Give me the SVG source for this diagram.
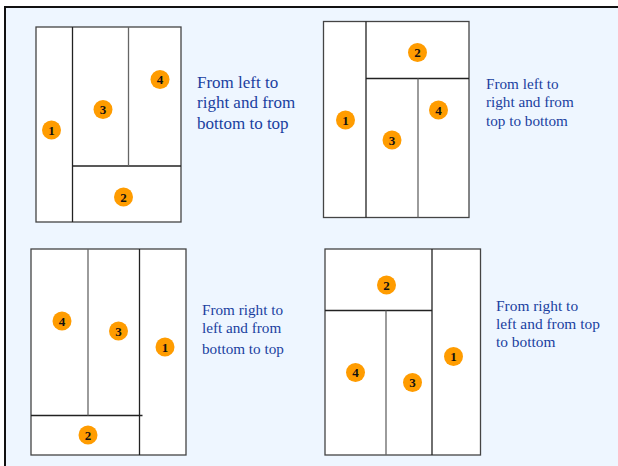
<svg xmlns="http://www.w3.org/2000/svg" width="618" height="466" viewBox="0 0 618 466">
<style>
.box{fill:#fff;stroke:#444;stroke-width:1.3}
.ln{stroke:#222;stroke-width:1.3;fill:none}
.lg{stroke:#666;stroke-width:1.3;fill:none}
.dot{fill:#FF9C00}
text{font-family:"Liberation Serif",serif}
.num{font-weight:bold;font-size:13px;fill:#111;text-anchor:middle}
.cap{fill:#1A3FA0}
</style>
<rect x="0" y="0" width="618" height="466" fill="#fff"/>
<rect x="5" y="7" width="613" height="459" fill="#EEF6FF"/>
<path d="M5,466 V7 H618" fill="none" stroke="#111" stroke-width="2"/>

<g id="diagram1">
<rect class="box" x="36" y="27" width="145" height="195"/>
<line class="ln" x1="72.5" y1="27" x2="72.5" y2="222"/>
<line class="ln" x1="72.5" y1="166" x2="181" y2="166"/>
<line class="lg" x1="128.5" y1="27" x2="128.5" y2="166"/>
<g id="d1n1"><circle class="dot" cx="51.5" cy="130" r="9.5"/><text class="num" x="51.5" y="134.5">1</text></g>
<g id="d1n3"><circle class="dot" cx="103" cy="109.5" r="9.5"/><text class="num" x="103" y="114">3</text></g>
<g id="d1n4"><circle class="dot" cx="160" cy="79.5" r="9.5"/><text class="num" x="160" y="84">4</text></g>
<g id="d1n2"><circle class="dot" cx="123.5" cy="197" r="9.5"/><text class="num" x="123.5" y="201.5">2</text></g>
<text class="cap" font-size="17" x="197" y="87.5">From left to</text>
<text class="cap" font-size="17" x="197" y="108">right and from</text>
<text class="cap" font-size="17" x="197" y="128.5">bottom to top</text>
</g>

<g id="diagram2">
<rect class="box" x="323.5" y="21.5" width="145.5" height="196"/>
<line class="ln" x1="366" y1="21.5" x2="366" y2="217.5"/>
<line class="ln" x1="366" y1="78.5" x2="469" y2="78.5"/>
<line class="lg" x1="418" y1="78.5" x2="418" y2="217.5"/>
<g id="d2n2"><circle class="dot" cx="417.5" cy="52.5" r="9.5"/><text class="num" x="417.5" y="57">2</text></g>
<g id="d2n1"><circle class="dot" cx="345.5" cy="120" r="9.5"/><text class="num" x="345.5" y="124.5">1</text></g>
<g id="d2n4"><circle class="dot" cx="438.5" cy="110" r="9.5"/><text class="num" x="438.5" y="114.5">4</text></g>
<g id="d2n3"><circle class="dot" cx="392" cy="140" r="9.5"/><text class="num" x="392" y="144.5">3</text></g>
<text class="cap" font-size="15.2" x="486" y="88.5">From left to</text>
<text class="cap" font-size="15.2" x="486" y="107">right and from</text>
<text class="cap" font-size="15.2" x="486" y="125.5">top to bottom</text>
</g>

<g id="diagram3">
<rect class="box" x="31" y="249" width="155" height="206"/>
<line class="ln" x1="139.5" y1="249" x2="139.5" y2="455"/>
<line class="ln" x1="31" y1="415.5" x2="142.5" y2="415.5"/>
<line class="lg" x1="88" y1="249" x2="88" y2="415.5"/>
<g id="d3n4"><circle class="dot" cx="62" cy="321" r="9.5"/><text class="num" x="62" y="325.5">4</text></g>
<g id="d3n3"><circle class="dot" cx="118.5" cy="331" r="9.5"/><text class="num" x="118.5" y="335.5">3</text></g>
<g id="d3n1"><circle class="dot" cx="165" cy="347" r="9.5"/><text class="num" x="165" y="351.5">1</text></g>
<g id="d3n2"><circle class="dot" cx="88" cy="435" r="9.5"/><text class="num" x="88" y="439.5">2</text></g>
<text class="cap" font-size="15.2" x="202" y="314.5">From right to</text>
<text class="cap" font-size="15.2" x="202" y="333">left and from</text>
<text class="cap" font-size="15.2" x="202" y="354">bottom to top</text>
</g>

<g id="diagram4">
<rect class="box" x="325" y="249" width="155.5" height="206"/>
<line class="ln" x1="432" y1="249" x2="432" y2="455"/>
<line class="ln" x1="325" y1="310.5" x2="432" y2="310.5"/>
<line class="lg" x1="386" y1="310.5" x2="386" y2="455"/>
<g id="d4n2"><circle class="dot" cx="386.5" cy="285" r="9.5"/><text class="num" x="386.5" y="289.5">2</text></g>
<g id="d4n4"><circle class="dot" cx="355.5" cy="372.5" r="9.5"/><text class="num" x="355.5" y="377">4</text></g>
<g id="d4n3"><circle class="dot" cx="412.5" cy="382.5" r="9.5"/><text class="num" x="412.5" y="387">3</text></g>
<g id="d4n1"><circle class="dot" cx="453.5" cy="356.5" r="9.5"/><text class="num" x="453.5" y="361">1</text></g>
<text class="cap" font-size="15.4" x="496" y="310.5">From right to</text>
<text class="cap" font-size="15.4" x="496" y="328.5">left and from top</text>
<text class="cap" font-size="15.4" x="496" y="346.5">to bottom</text>
</g>
</svg>
